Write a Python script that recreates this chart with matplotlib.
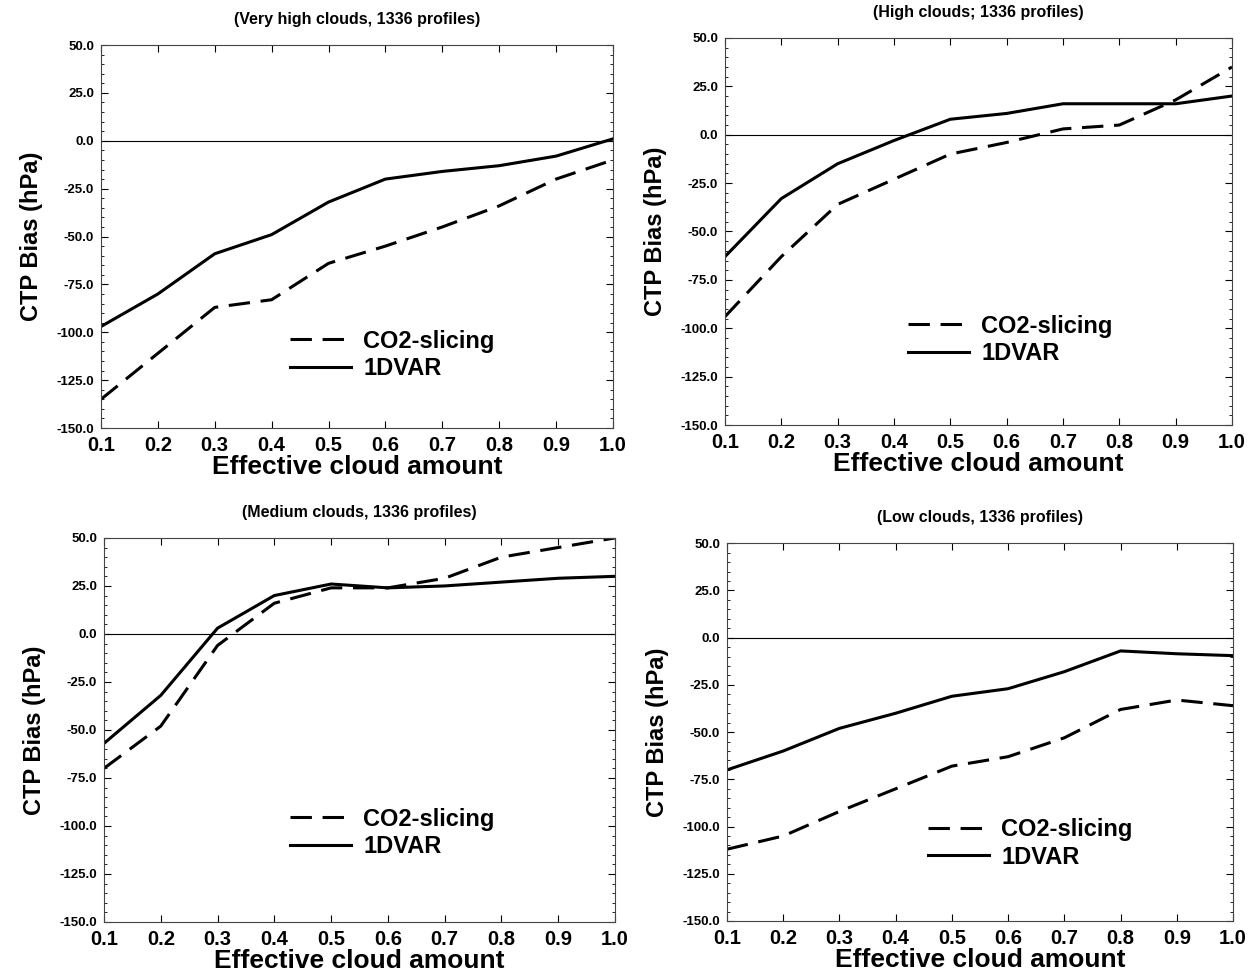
import matplotlib
matplotlib.use("Agg")
import matplotlib.pyplot as plt
from matplotlib.ticker import MultipleLocator, FormatStrFormatter

plt.rcParams['font.family'] = ['Liberation Sans', 'DejaVu Sans']
plt.rcParams['font.weight'] = 'bold'

# Données
cloud_amount = [0.1, 0.2, 0.3, 0.4, 0.5, 0.6, 0.7, 0.8, 0.9, 1.0]

titles = ["(Very high clouds, 1336 profiles)",
          "(High clouds; 1336 profiles)",
          "(Medium clouds, 1336 profiles)",
          "(Low clouds, 1336 profiles)"]

co2_very_high = [-135, -111, -87, -83, -64, -55, -45, -34, -20, -10]
dvar_very_high = [-97, -80, -59, -49, -32, -20, -16, -13, -8, 1]

co2_high = [-94, -63, -36, -23, -10, -4, 3, 5, 18, 35]
dvar_high = [-63, -33, -15, -3, 8, 11, 16, 16, 16, 20]

co2_medium = [-70, -48, -6, 16, 24, 24, 29, 40, 45, 50]
dvar_medium = [-57, -32, 3, 20, 26, 24, 25, 27, 29, 30]

co2_low = [-112, -105, -92, -80, -68, -63, -53, -38, -33, -36]
dvar_low = [-70, -60, -48, -40, -31, -27, -18, -7, -8.5, -9.5]

series = [(co2_very_high, dvar_very_high), (co2_high, dvar_high),
          (co2_medium, dvar_medium), (co2_low, dvar_low)]

# positions des axes (fraction de la figure)
positions = [[0.0804, 0.5592, 0.4076, 0.3944],
             [0.5772, 0.5623, 0.4037, 0.3986],
             [0.0828, 0.0505, 0.4068, 0.3955],
             [0.5788, 0.0515, 0.4029, 0.3890]]
legend_anchor = [(0.369, 0.257), (0.361, 0.285), (0.364, 0.298), (0.397, 0.273)]

fig = plt.figure(figsize=(12.56, 9.71), dpi=100)

for i in range(4):
    ax = fig.add_axes(positions[i])
    co2, dvar = series[i]
    ax.axhline(0, color='black', lw=0.8)
    ax.plot(cloud_amount, co2, color='black', lw=2.2, dashes=(7, 3.5), label="CO2-slicing")
    ax.plot(cloud_amount, dvar, color='black', lw=2.2, label="1DVAR")

    ax.set_xlim(0.1, 1.0)
    ax.set_ylim(-150, 50)
    ax.xaxis.set_major_locator(MultipleLocator(0.1))
    ax.yaxis.set_major_locator(MultipleLocator(25))
    ax.yaxis.set_minor_locator(MultipleLocator(5))
    ax.xaxis.set_major_formatter(FormatStrFormatter('%.1f'))
    ax.yaxis.set_major_formatter(FormatStrFormatter('%.1f'))
    ax.tick_params(which='both', direction='in', top=True, right=True)
    ax.tick_params(which='major', length=5, width=0.8)
    ax.tick_params(which='minor', length=2.5, width=0.6)
    ax.tick_params(axis='x', labelsize=14.5, pad=6)
    ax.tick_params(axis='y', labelsize=9.5, pad=5)
    for lab in ax.get_xticklabels() + ax.get_yticklabels():
        lab.set_fontweight('bold')
    for sp in ax.spines.values():
        sp.set_linewidth(0.8)
        sp.set_color('#444444')

    ax.set_title(titles[i], fontsize=11.5, fontweight='bold', pad=15)
    ax.set_xlabel("Effective cloud amount", fontsize=19, fontweight='bold', labelpad=0)
    ax.set_ylabel("CTP Bias (hPa)", fontsize=17, fontweight='bold', labelpad=10)

    leg = ax.legend(loc='upper left', bbox_to_anchor=legend_anchor[i], frameon=False,
                    fontsize=17, handlelength=2.6, handletextpad=0.5, labelspacing=0.2,
                    borderpad=0, borderaxespad=0)
    for t in leg.get_texts():
        t.set_fontweight('bold')

fig.savefig("out.png", dpi=100)
